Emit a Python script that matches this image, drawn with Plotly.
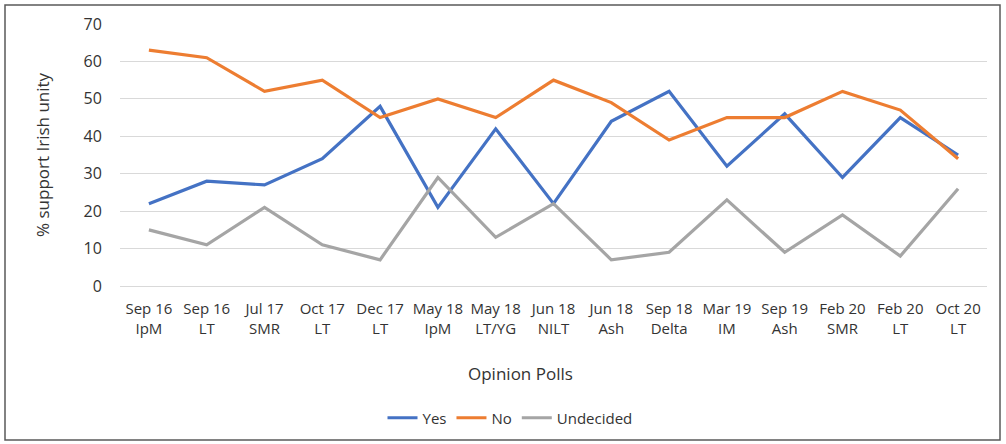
import plotly.graph_objects as go

categories = ["Sep 16<br>IpM", "Sep 16<br>LT", "Jul 17<br>SMR", "Oct 17<br>LT", "Dec 17<br>LT",
              "May 18<br>IpM", "May 18<br>LT/YG", "Jun 18<br>NILT", "Jun 18<br>Ash", "Sep 18<br>Delta",
              "Mar 19<br>IM", "Sep 19<br>Ash", "Feb 20<br>SMR", "Feb 20<br>LT", "Oct 20<br>LT"]
yes = [22, 28, 27, 34, 48, 21, 42, 22, 44, 52, 32, 46, 29, 45, 35]
no = [63, 61, 52, 55, 45, 50, 45, 55, 49, 39, 45, 45, 52, 47, 34]
undecided = [15, 11, 21, 11, 7, 29, 13, 22, 7, 9, 23, 9, 19, 8, 26]
y_ticks = [0, 10, 20, 30, 40, 50, 60, 70]

FONT = "Open Sans, DejaVu Sans, sans-serif"
TXT = "#333333"
W, H = 1006, 444
L, R, T, B = 120, 19, 24, 158
pw, ph = W - L - R, H - T - B

fig = go.Figure()
for name, vals, col in [("Yes", yes, "#4472C4"), ("No", no, "#ED7D31"), ("Undecided", undecided, "#A5A5A5")]:
    fig.add_trace(go.Scatter(x=categories, y=vals, mode="lines", name=name,
                             line=dict(color=col, width=3.2)))

fig.update_layout(
    width=W, height=H,
    margin=dict(l=L, r=R, t=T, b=B, autoexpand=False),
    paper_bgcolor="white", plot_bgcolor="white",
    font=dict(family=FONT, color=TXT, size=14),
    showlegend=True,
    legend=dict(orientation="h", x=(510 - L) / pw, xanchor="center",
                y=(T + ph - 418) / ph, yanchor="middle",
                font=dict(size=15, color=TXT)),
    xaxis=dict(type="category", showgrid=False, zeroline=False, showline=False, automargin=False,
               ticks="outside", ticklen=9, tickcolor="rgba(0,0,0,0)",
               tickfont=dict(size=15, color=TXT), range=[-0.5, 14.5]),
    yaxis=dict(range=[0, 70], tickvals=y_ticks, showgrid=True, gridcolor="#D9D9D9", gridwidth=1,
               zeroline=True, zerolinecolor="#D9D9D9", zerolinewidth=1,
               showline=False, automargin=False,
               ticks="outside", ticklen=14, tickcolor="rgba(0,0,0,0)",
               tickfont=dict(size=16, color=TXT)),
)

fig.add_annotation(text="Opinion Polls", xref="paper", yref="paper",
                   x=(520 - L) / pw, y=(T + ph - 373) / ph, showarrow=False,
                   font=dict(size=17, color=TXT), xanchor="center", yanchor="middle")
fig.add_annotation(text="% support Irish unity", xref="paper", yref="paper",
                   x=(42 - L) / pw, y=(T + ph - 155) / ph, showarrow=False, textangle=-90,
                   font=dict(size=17, color=TXT), xanchor="center", yanchor="middle")

fig.add_shape(type="rect", xref="paper", yref="paper",
              x0=(5 - L) / pw, x1=(1000 - L) / pw,
              y0=(T + ph - 440) / ph, y1=(T + ph - 5) / ph,
              line=dict(color="#595959", width=1.5), fillcolor="rgba(0,0,0,0)", layer="below")

fig.write_html("out.html", config={"displayModeBar": False},
               post_script="document.body.style.margin='0px';document.body.style.overflow='hidden';")
